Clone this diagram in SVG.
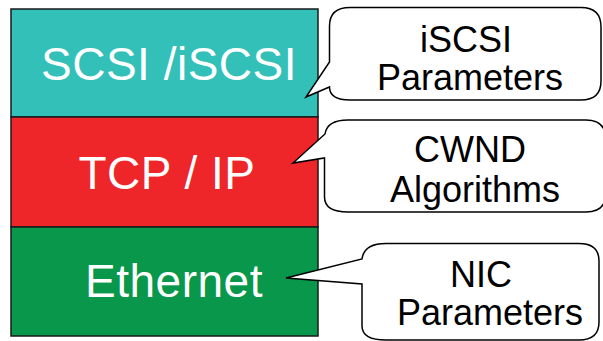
<svg xmlns="http://www.w3.org/2000/svg" width="603" height="341" viewBox="0 0 603 341">
<style>
.layer{stroke:#1a1a1a;stroke-width:1.5}
.lt{font-family:"Liberation Sans",Arial,sans-serif;font-size:46px;fill:#ffffff;text-anchor:middle;letter-spacing:0.5px}
.co{fill:#ffffff;stroke:#000000;stroke-width:1.5;stroke-linejoin:miter}
.ct{font-family:"Liberation Sans",Arial,sans-serif;font-size:36px;fill:#000000;text-anchor:middle}
</style>
<rect width="603" height="341" fill="#ffffff"/>
<g id="scsi">
<rect class="layer" x="11" y="9" width="307" height="108" fill="#32c0b9"/>
<text class="lt" x="169" y="80">SCSI /iSCSI</text>
</g>
<g id="tcpip">
<rect class="layer" x="11" y="117" width="307" height="110" fill="#ee2529"/>
<text class="lt" x="167" y="189">TCP / IP</text>
</g>
<g id="ethernet">
<rect class="layer" x="11" y="227" width="307" height="109" fill="#08974b"/>
<text class="lt" x="174" y="297">Ethernet</text>
</g>
<g id="callout-iscsi">
<path class="co" d="M 350,7.5 H 581 Q 601,7.5 601,27 V 81 Q 601,100 581,100 H 350 Q 329.5,100 329.5,87 L 306,97 L 329.5,62 V 26 Q 329.5,7.5 350,7.5 Z"/>
<text class="ct" x="466" y="52">iSCSI</text>
<text class="ct" x="470" y="90">Parameters</text>
</g>
<g id="callout-cwnd">
<path class="co" d="M 348,120 H 586 Q 606,120 606,140 V 193 Q 606,212 586,212 H 348 Q 324.5,212 324.5,197 V 158 L 293,163 L 325,134 Q 327,120 348,120 Z"/>
<text class="ct" x="470" y="162">CWND</text>
<text class="ct" x="475" y="202">Algorithms</text>
</g>
<g id="callout-nic">
<path class="co" d="M 386,243.5 H 579 Q 599,243.5 599,261 V 322 Q 599,340 579,340 H 386 Q 362,340 362,326 V 284 L 286,278 L 362,259 Q 364,243.5 386,243.5 Z"/>
<text class="ct" x="481" y="287">NIC</text>
<text class="ct" x="490" y="325">Parameters</text>
</g>
<g id="connectors"></g>
</svg>
